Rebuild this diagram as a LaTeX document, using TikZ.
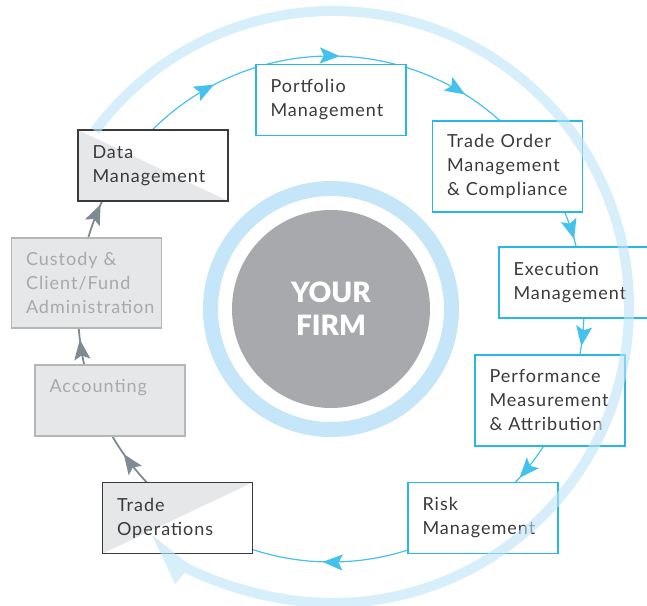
\documentclass[tikz,border=0pt]{standalone}
\usepackage{fontspec}
\setmainfont{Lato}
\newfontfamily\stagefont{Lato}[LetterSpace=5.6]
\newfontfamily\hubfont{Lato Black}
\usetikzlibrary{positioning}
\usetikzlibrary{arrows.meta}
\usetikzlibrary{decorations.markings}

\hyphenpenalty=10000
\exhyphenpenalty=10000

\definecolor{stageblue}{HTML}{29B6E9}
\definecolor{flowblue}{HTML}{45C1EE}
\definecolor{flowgrey}{HTML}{7F8A95}
\definecolor{inkgrey}{HTML}{3A3A3C}
\definecolor{softgrey}{HTML}{A7A9AC}
\definecolor{panelgrey}{HTML}{E6E7E8}
\definecolor{edgegrey}{HTML}{B5B6B8}
\definecolor{hubgrey}{HTML}{A7A9AC}
\definecolor{ringblue}{HTML}{C4E6F8}
\definecolor{orbitblue}{HTML}{BDE3F8}

\tikzset{
  stage/.style={draw=stageblue, line width=1.2pt, fill=white, text=inkgrey,
    minimum width=150pt, minimum height=71pt, text width=121pt,
    inner xsep=14.5pt, align=left, font=\stagefont\fontsize{18}{24}\selectfont},
  tall/.style={minimum height=91pt},
  desk/.style={stage, draw=edgegrey, fill=panelgrey, text=softgrey},
  handoff/.style={stage, draw=inkgrey},
  % grey half below / above the diagonal
  splitlow/.style={path picture={\fill[panelgrey] (path picture bounding box.north west)
    -- (path picture bounding box.south east) -- (path picture bounding box.south west) -- cycle;}},
  splithigh/.style={path picture={\fill[panelgrey] (path picture bounding box.north west)
    -- (path picture bounding box.north east) -- (path picture bounding box.south west) -- cycle;}},
  flow/.style={flowblue, line width=1.2pt},
  backflow/.style={flowgrey, line width=1.8pt},
  headat/.style={postaction={decorate, decoration={markings,
    mark=at position #1 with {\arrow{Stealth[length=20pt, width=16pt, inset=4pt]}}}}},
}

\begin{document}
\begin{tikzpicture}[x=1pt, y=1pt]
\useasboundingbox (0,0) rectangle (647,605);
\def\R{253}

% hub in the middle
\coordinate (hub) at (331,296);
\draw[ringblue, line width=15pt] (hub) circle[radius=120.5];
\node[circle, fill=hubgrey, minimum size=198pt, inner sep=0pt, text=white, align=center,
  font=\hubfont\fontsize{28}{33}\selectfont] (firm) at (hub) {YOUR\\FIRM};

% arcs round the hub, ends hidden under the boxes
\foreach \from/\to/\pos/\kind in {138/106/0.64/flow, 25/12/0.69/flow, 0/-13/0.65/flow,
    -30/-46/0.74/flow, -71/-109/0.55/flow,
    226/206/0.55/backflow, 195/182/0.62/backflow, 167/152/0.76/backflow}
  \draw[\kind, headat=\pos] ([shift={(\from:\R)}]hub) arc[start angle=\from, end angle=\to, radius=\R];
\draw[flow, headat=0.30, headat=0.80] ([shift={(106:\R)}]hub) arc[start angle=106, end angle=46, radius=\R];

% the stages
\node[stage] (pm) at (331,505) {Portfolio\\Management};
\node[stage, tall] (tom) at (507.5,438.5) {Trade~Order\\Management\\\&~Compliance};
\node[stage] (em) at (574,322.5) {Execution\\Management};
\node[stage, tall] (pma) at (550,204.5) {Performance\\Measurement\\\&~Attribution};
\node[stage] (rm) at (483,87) {Risk\\Management};
\node[handoff, splithigh] (to) at (177.5,87) {Trade\\Operations};
\node[desk, text height=13pt, text depth=28pt] (acc) at (110,204.5) {Accounting};
\node[desk, minimum height=90pt] (cust) at (86.5,322) {Custody~\&\\Client/Fund\\Administration};
\node[handoff, splitlow] (dm) at (153,439.5) {Data\\Management};

% big loop over everything
\coordinate (orbit) at (333,298);
\begin{scope}[transparency group, opacity=0.6]
\draw[orbitblue, line width=10pt, -{Triangle[length=40pt, width=34pt, left]}]
  ([shift={(143.5:296)}]orbit) arc[start angle=143.5, end angle=-129, radius=296];
\end{scope}
\end{tikzpicture}
\end{document}
